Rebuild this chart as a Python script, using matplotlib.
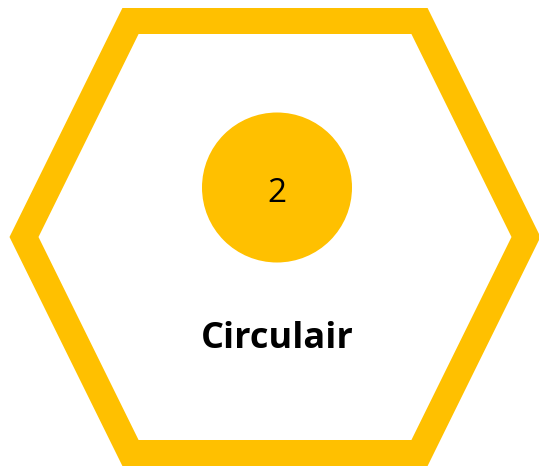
import matplotlib
matplotlib.use('Agg')
import matplotlib.pyplot as plt
from matplotlib.patches import Polygon, Circle

# data
step_number = '2'
step_label = 'Circulair'
gold = '#FFC000'

# hexagon (centre line of the stroke), in pixel units
hex_cx, hex_cy = 275, 237
hex_half_w = 251     # centre to left/right point
hex_half_top = 144.5  # centre to the corner of the flat top edge
hex_half_h = 216

fig = plt.figure(figsize=(5.39, 4.67), dpi=100)
ax = fig.add_axes([0, 0, 1, 1])
ax.set_xlim(0, 539)
ax.set_ylim(467, 0)
ax.axis('off')

verts = [
    (hex_cx - hex_half_w, hex_cy),
    (hex_cx - hex_half_top, hex_cy - hex_half_h),
    (hex_cx + hex_half_top, hex_cy - hex_half_h),
    (hex_cx + hex_half_w, hex_cy),
    (hex_cx + hex_half_top, hex_cy + hex_half_h),
    (hex_cx - hex_half_top, hex_cy + hex_half_h),
]
ax.add_patch(Polygon(verts, closed=True, fill=False, edgecolor=gold,
                     linewidth=26 * 0.72, joinstyle='miter'))

ax.add_patch(Circle((277, 187.5), 75, facecolor=gold, edgecolor='none'))
ax.text(277, 193, step_number, ha='center', va='center', fontsize=24,
        family='Open Sans', color='black')
ax.text(277, 339, step_label, ha='center', va='center', fontsize=26,
        family='Open Sans', fontweight='bold', color='black')

plt.savefig('out.png', dpi=100)
